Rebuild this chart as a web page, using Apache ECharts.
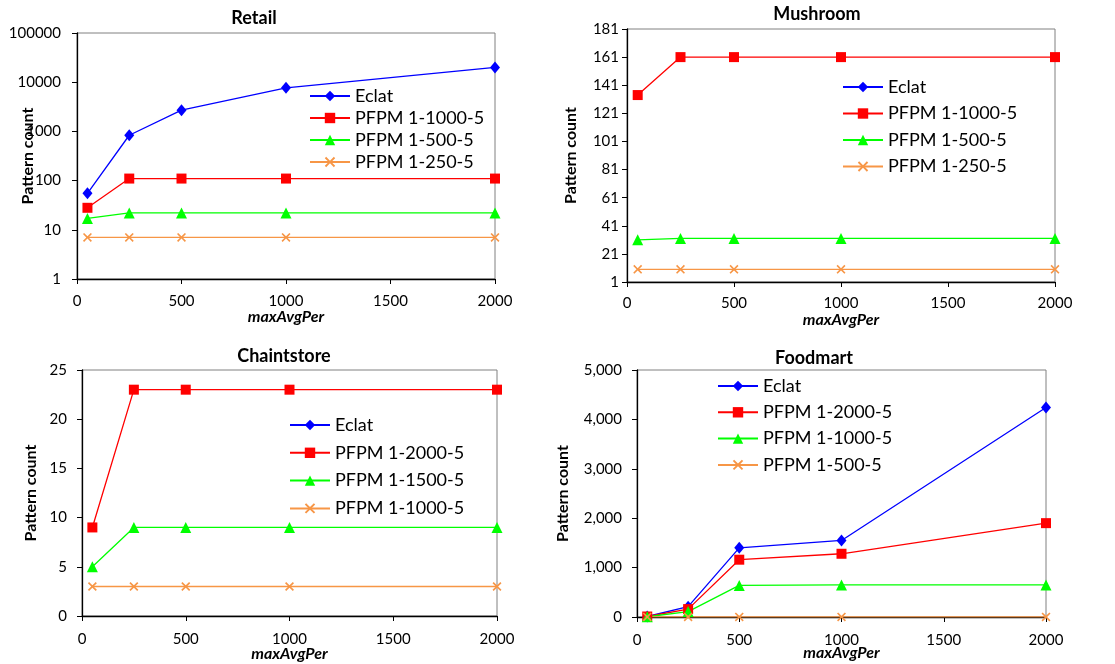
<!DOCTYPE html>
<html><head><meta charset="utf-8">
<script src="https://cdn.jsdelivr.net/npm/echarts@6/dist/echarts.min.js"></script>
<style>html,body{margin:0;padding:0;background:#fff}#c{width:1115px;height:664px}</style>
</head><body><div id="c"></div>
<script>
// ---- data ----
const xValues = [50, 250, 500, 1000, 2000];
const xTicks = [0, 500, 1000, 1500, 2000];

const retailEclat = [55, 835, 2700, 7700, 20000];
const retailP1000 = [28, 110, 110, 110, 110];
const retailP500 = [17, 22, 22, 22, 22];
const retailP250 = [7, 7, 7, 7, 7];
const retailTicks = [1, 10, 100, 1000, 10000, 100000];

const mushroomEclat = [];
const mushroomP1000 = [134, 161, 161, 161, 161];
const mushroomP500 = [31, 32, 32, 32, 32];
const mushroomP250 = [10, 10, 10, 10, 10];
const mushroomTicks = [1, 21, 41, 61, 81, 101, 121, 141, 161, 181];

const chainEclat = [];
const chainP2000 = [9, 23, 23, 23, 23];
const chainP1500 = [5, 9, 9, 9, 9];
const chainP1000 = [3, 3, 3, 3, 3];
const chainTicks = [0, 5, 10, 15, 20, 25];

const foodEclat = [10, 210, 1400, 1550, 4240];
const foodP2000 = [10, 160, 1160, 1280, 1900];
const foodP1000 = [5, 110, 640, 650, 650];
const foodP500 = [1, 1, 1, 1, 1];
const foodTicks = [0, 1000, 2000, 3000, 4000, 5000];

// ---- styling ----
const FONT = 'Lato';
const X_PATH = 'path://M0,1.3 L1.3,0 L5,3.7 L8.7,0 L10,1.3 L6.3,5 L10,8.7 L8.7,10 L5,6.3 L1.3,10 L0,8.7 L3.7,5 Z';
const ST = {
  eclat: { color: '#0000FF', symbol: 'diamond', symbolSize: [10, 12] },
  red: { color: '#FF0000', symbol: 'rect', symbolSize: 10 },
  green: { color: '#00FF00', symbol: 'triangle', symbolSize: 11 },
  orange: { color: '#F79646', symbol: X_PATH, symbolSize: 9 }
};

function mk(idx, tag, label, vals, st) {
  return {
    type: 'line', name: tag + '|' + label, xAxisIndex: idx, yAxisIndex: idx,
    data: vals.map((v, i) => [xValues[i], v]),
    symbol: st.symbol, symbolSize: st.symbolSize, showAllSymbol: true,
    lineStyle: { color: st.color, width: 1.3 }, itemStyle: { color: st.color },
    emphasis: { disabled: true }
  };
}

const charts = [
  { tag: 'R', title: 'Retail', tx: 254, ty: 9, grid: { left: 77, top: 33, width: 418, height: 246 },
    series: [['Eclat', retailEclat, ST.eclat], ['PFPM 1-1000-5', retailP1000, ST.red], ['PFPM 1-500-5', retailP500, ST.green], ['PFPM 1-250-5', retailP250, ST.orange]],
    legend: { left: 309, top: 87, gap: 4 }, yNameGap: 41, xNameGap: 30, yLabelMargin: 16, xLabelMargin: 15 },
  { tag: 'M', title: 'Mushroom', tx: 817, ty: 5, grid: { left: 627, top: 29, width: 428, height: 253 },
    series: [['Eclat', mushroomEclat, ST.eclat], ['PFPM 1-1000-5', mushroomP1000, ST.red], ['PFPM 1-500-5', mushroomP500, ST.green], ['PFPM 1-250-5', mushroomP250, ST.orange]],
    legend: { left: 842, top: 78, gap: 8.5 }, yNameGap: 48, xNameGap: 30, yLabelMargin: 8, xLabelMargin: 14 },
  { tag: 'C', title: 'Chaintstore', tx: 284, ty: 347, grid: { left: 82, top: 370, width: 415, height: 246 },
    series: [['Eclat', chainEclat, ST.eclat], ['PFPM 1-2000-5', chainP2000, ST.red], ['PFPM 1-1500-5', chainP1500, ST.green], ['PFPM 1-1000-5', chainP1000, ST.orange]],
    legend: { left: 289, top: 416, gap: 9.8 }, yNameGap: 43, xNameGap: 30, yLabelMargin: 15, xLabelMargin: 16 },
  { tag: 'F', title: 'Foodmart', tx: 814, ty: 349, grid: { left: 637, top: 370, width: 409, height: 247 },
    series: [['Eclat', foodEclat, ST.eclat], ['PFPM 1-2000-5', foodP2000, ST.red], ['PFPM 1-1000-5', foodP1000, ST.green], ['PFPM 1-500-5', foodP500, ST.orange]],
    legend: { left: 717, top: 377, gap: 8.3 }, yNameGap: 66, xNameGap: 28, yLabelMargin: 15, xLabelMargin: 16 }
];

const yAxisDefs = [
  { type: 'log', logBase: 10, min: 1, max: 100000, axisLabel: { formatter: v => String(v) } },
  { type: 'value', min: 1, max: 181, axisLabel: { customValues: mushroomTicks }, axisTick: { customValues: mushroomTicks } },
  { type: 'value', min: 0, max: 25, interval: 5 },
  { type: 'value', min: 0, max: 5000, interval: 1000, axisLabel: { formatter: v => v.toLocaleString('en-US') } }
];

const option = { animation: false, backgroundColor: '#fff', title: [], grid: [], xAxis: [], yAxis: [], legend: [], series: [] };

charts.forEach((c, i) => {
  option.title.push({ text: c.title, left: c.tx, top: c.ty, textAlign: 'center', padding: 0,
    textStyle: { fontFamily: FONT, fontSize: 18, fontWeight: 'bold', color: '#000' } });
  option.grid.push(Object.assign({ show: true, borderColor: '#808080', borderWidth: 1, outerBoundsMode: 'none', containLabel: false }, c.grid));
  option.xAxis.push({
    gridIndex: i, type: 'value', min: 0, max: 2000, interval: 500,
    name: 'maxAvgPer', nameLocation: 'middle', nameGap: c.xNameGap, nameMoveOverlap: false,
    nameTextStyle: { fontFamily: FONT, fontSize: 16, fontWeight: 'bold', fontStyle: 'italic', color: '#000' },
    axisLine: { show: true, onZero: false, lineStyle: { color: '#000', width: 1.3 } },
    axisTick: { show: true, length: 5, lineStyle: { color: '#000' } },
    axisLabel: { fontFamily: FONT, fontSize: 15, color: '#000', margin: c.xLabelMargin, showMaxLabel: true, showMinLabel: true, formatter: v => String(v) },
    splitLine: { show: false }
  });
  const yd = yAxisDefs[i];
  option.yAxis.push({
    gridIndex: i, type: yd.type, logBase: yd.logBase, min: yd.min, max: yd.max, interval: yd.interval,
    name: 'Pattern count', nameLocation: 'middle', nameGap: c.yNameGap, nameMoveOverlap: false,
    nameTextStyle: { fontFamily: FONT, fontSize: 16, fontWeight: 'bold', color: '#000' },
    axisLine: { show: true, onZero: false, lineStyle: { color: '#000', width: 1.3 } },
    axisTick: Object.assign({ show: true, length: 5, lineStyle: { color: '#000' } }, yd.axisTick || {}),
    axisLabel: Object.assign({ fontFamily: FONT, fontSize: 15, color: '#000', margin: c.yLabelMargin, showMaxLabel: true, showMinLabel: true }, yd.axisLabel || {}),
    splitLine: { show: false }
  });
  const names = [];
  c.series.forEach(s => {
    const ser = mk(i, c.tag, s[0], s[1], s[2]);
    names.push(ser.name);
    option.series.push(ser);
  });
  option.legend.push({
    data: names, orient: 'vertical', left: c.legend.left, top: c.legend.top, itemGap: c.legend.gap,
    padding: 0, itemWidth: 40, itemHeight: 13, selectedMode: false,
    formatter: n => n.split('|')[1],
    textStyle: { fontFamily: FONT, fontSize: 18, color: '#000', lineHeight: 18 }
  });
});

const chart = echarts.init(document.getElementById('c'), null, { renderer: 'canvas' });
chart.setOption(option);
</script>
</body></html>
